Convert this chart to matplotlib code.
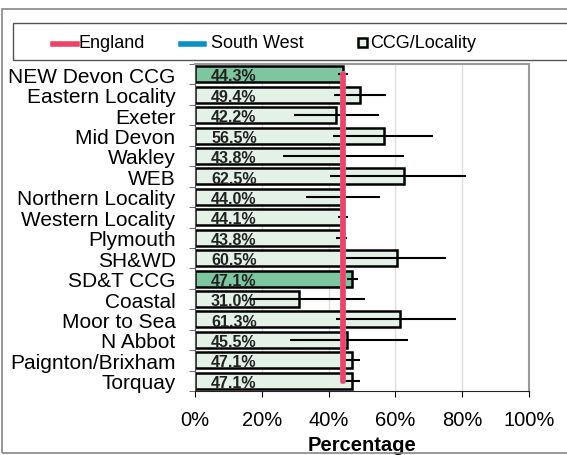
import matplotlib.pyplot as plt
import matplotlib.patches as mpatches
from matplotlib.lines import Line2D
import numpy as np

plt.rcParams['font.family'] = ['Liberation Sans', 'DejaVu Sans']

areas = ["NEW Devon CCG", "Eastern Locality", "Exeter", "Mid Devon", "Wakley", "WEB",
         "Northern Locality", "Western Locality", "Plymouth", "SH&WD", "SD&T CCG",
         "Coastal", "Moor to Sea", "N Abbot", "Paignton/Brixham", "Torquay"]
values = [44.3, 49.4, 42.2, 56.5, 43.8, 62.5, 44.0, 44.1, 43.8, 60.5, 47.1, 31.0, 61.3, 45.5, 47.1, 47.1]
ci_low = [42.7, 41.5, 29.7, 41.2, 26.3, 40.5, 33.3, 42.7, 42.3, 45.0, 45.5, 16.5, 42.3, 28.3, 44.5, 44.5]
ci_high = [45.8, 57.3, 55.1, 71.3, 62.7, 81.2, 55.5, 45.8, 45.5, 75.2, 48.8, 50.9, 78.2, 63.8, 49.4, 49.4]
is_ccg = [True, False, False, False, False, False, False, False, False, False, True,
          False, False, False, False, False]
england = 44.2
south_west = 44.4

W, H = 567, 456
fig = plt.figure(figsize=(W / 100, H / 100), dpi=100)
ax = fig.add_axes([195 / W, 64 / H, 334 / W, 327 / H])

y = np.arange(len(areas))
colors = ["#7DC6A0" if c else "#E3F1E7" for c in is_ccg]
vals = np.array(values)
xerr = [vals - np.array(ci_low), np.array(ci_high) - vals]

ax.barh(y, vals, height=0.78, color=colors, edgecolor="black", linewidth=1.8, zorder=2)
ax.errorbar(vals, y, xerr=xerr, fmt="none", ecolor="black", elinewidth=1.5, capsize=0, zorder=3)
ax.plot([south_west] * len(y), y, color="#8FC3E6", lw=4, zorder=4)
ax.plot([england] * len(y), y, color="#EC4468", lw=4, zorder=5, solid_capstyle="round")

for yi, v in zip(y, values):
    ax.text(4.8, yi + 0.08, f"{v:.1f}%", va="center", ha="left", fontsize=11.5,
            fontweight="bold", color="#222222", zorder=6)

ax.set_ylim(len(areas) - 0.5, -0.5)
ax.set_xlim(0, 100)
ax.set_yticks(y)
ax.set_yticklabels(areas, fontsize=15)
ax.tick_params(axis="y", length=0, pad=14)
ax.set_yticks(np.arange(len(areas) + 1) - 0.5, minor=True)
ax.tick_params(axis="y", which="minor", length=4, color="#555555")

ax.set_xticks([0, 20, 40, 60, 80, 100])
ax.set_xticklabels([f"{t}%" for t in [0, 20, 40, 60, 80, 100]], fontsize=14.5)
ax.tick_params(axis="x", length=4, pad=10)
ax.set_xlabel("Percentage", fontsize=14.5, fontweight="bold", labelpad=4)
ax.grid(axis="x", color="#DDDDDD", lw=1, zorder=0)
ax.set_axisbelow(True)

for s in ["top", "right"]:
    ax.spines[s].set_color("#999999")
    ax.spines[s].set_linewidth(1.5)
ax.spines["left"].set_color("#555555")
ax.spines["bottom"].set_color("#222222")

# outer frame and legend box
fig.patches.append(mpatches.Rectangle((2 / W, 0.005), 1.0, 1 - 10 / H - 0.005,
                                      transform=fig.transFigure, fill=False,
                                      edgecolor="#888888", lw=1.2))
fig.patches.append(mpatches.Rectangle((13 / W, 1 - 61 / H), 1.0, 37 / H,
                                      transform=fig.transFigure, fill=False,
                                      edgecolor="#555555", lw=1))

# legend entries
ly = 1 - 45 / H
fig.add_artist(Line2D([53 / W, 77 / W], [ly, ly], color="#EC4468", lw=4))
fig.text(79 / W, ly + 2 / H, "England", fontsize=13, va="center", ha="left")
fig.add_artist(Line2D([181 / W, 204 / W], [ly, ly], color="#0B8FCB", lw=4))
fig.text(211 / W, ly + 2 / H, "South West", fontsize=13, va="center", ha="left")
fig.patches.append(mpatches.Rectangle((358 / W, ly - 3 / H), 9 / W, 9 / H,
                                      transform=fig.transFigure, facecolor="#E3F1E7",
                                      edgecolor="black", lw=1.8))
fig.text(370 / W, ly + 2 / H, "CCG/Locality", fontsize=13, va="center", ha="left")

fig.savefig("out.png", dpi=100)
